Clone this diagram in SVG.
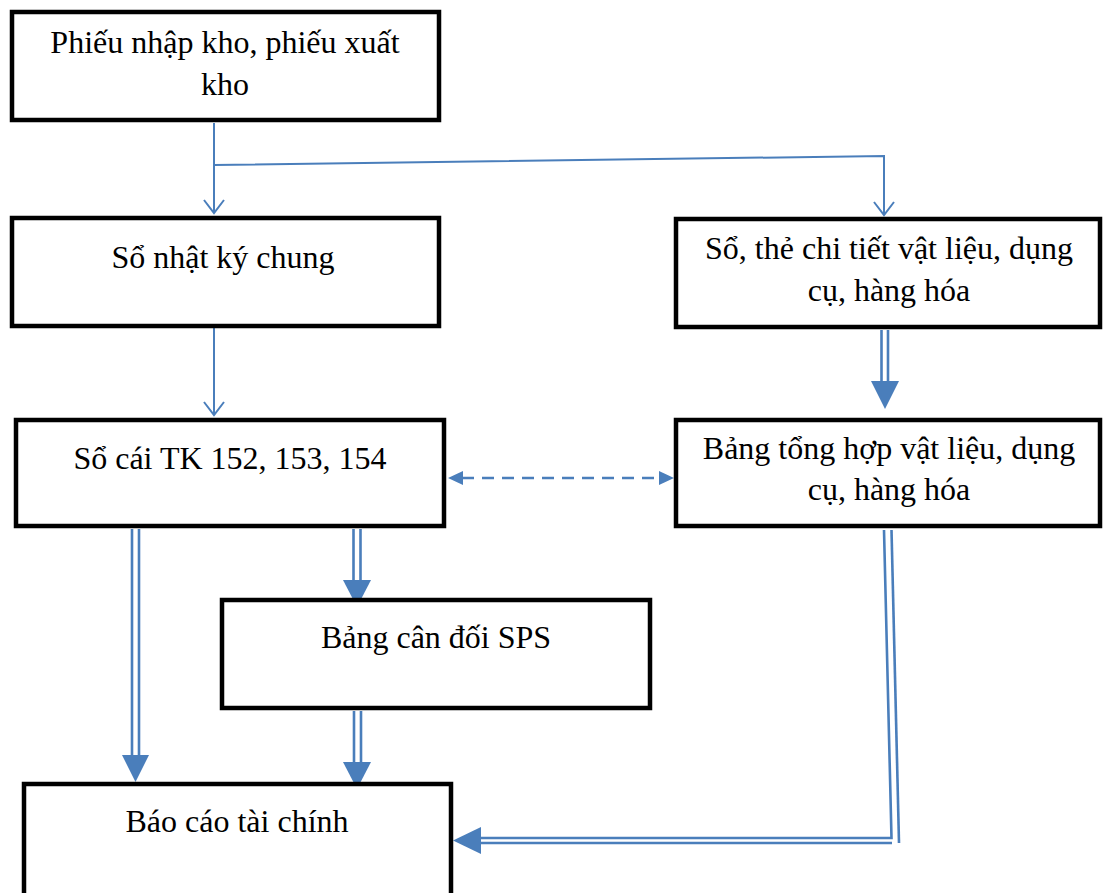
<svg xmlns="http://www.w3.org/2000/svg" width="1103" height="893" viewBox="0 0 1103 893">
  <defs>
    <style>
      .box { fill: #ffffff; stroke: #000000; stroke-width: 4.5; }
      .lbl { font-family: "Liberation Serif", "Times New Roman", serif; font-size: 32px; fill: #000000; text-anchor: middle; }
      .thin { fill: none; stroke: #4a7ebb; stroke-width: 2; }
      .dbl { fill: none; stroke: #4a7ebb; stroke-width: 2.6; }
      .dash { fill: none; stroke: #4a7ebb; stroke-width: 2.5; stroke-dasharray: 12 8; }
      .head { fill: #4a7ebb; stroke: none; }
    </style>
  </defs>

  <rect width="1103" height="893" fill="#ffffff"/>

  <!-- connectors -->
  <g id="connectors">
    <!-- source documents to general journal and detail ledgers -->
    <path class="thin" d="M214,123 V212"/>
    <path d="M204,200 L214,213 L224,200" class="thin"/>
    <path class="thin" d="M214,165 L884,156 V214"/>
    <path d="M874,202 L884,215 L894,202" class="thin"/>

    <!-- general journal to general ledger -->
    <path class="thin" d="M214,328 V414"/>
    <path d="M204,402 L214,415 L224,402" class="thin"/>

    <!-- detail ledgers to summary table -->
    <path class="dbl" d="M881.5,330 V382 M888,330 V382"/>
    <path class="head" d="M871,381 H899 L885,409 Z"/>

    <!-- reconciliation between general ledger and summary table -->
    <path class="dash" d="M462,478 H660"/>
    <path class="head" d="M448,478 L463,471 L463,485 Z"/>
    <path class="head" d="M674,478 L659,471 L659,485 Z"/>

    <!-- general ledger to financial statements -->
    <path class="dbl" d="M132,529 V757 M139,529 V757"/>
    <path class="head" d="M122,755 H149 L135.5,782 Z"/>

    <!-- general ledger to trial balance -->
    <path class="dbl" d="M353.5,529 V582 M360.5,529 V582"/>
    <path class="head" d="M343,580 H371 L357,607 Z"/>

    <!-- trial balance to financial statements -->
    <path class="dbl" d="M354,711 V764 M361,711 V764"/>
    <path class="head" d="M343,762 H371 L357,789 Z"/>

    <!-- summary table to financial statements -->
    <path class="dbl" d="M884,530 L891.5,838 H478"/>
    <path class="dbl" d="M891.5,530 L899,843"/>
    <path class="dbl" d="M892,843 H478"/>
    <path class="head" d="M453,840.5 L481,827 V854 Z"/>
  </g>

  <g id="node-phieu">
    <rect class="box" x="12" y="12" width="427" height="108"/>
    <text class="lbl" x="225" y="53">Phiếu nhập kho, phiếu xuất</text>
    <text class="lbl" x="225" y="95">kho</text>
  </g>

  <g id="node-nhatky">
    <rect class="box" x="12" y="218" width="427" height="108"/>
    <text class="lbl" x="223" y="268">Sổ nhật ký chung</text>
  </g>

  <g id="node-sothe">
    <rect class="box" x="676" y="219" width="424" height="108"/>
    <text class="lbl" x="889" y="259">Sổ, thẻ chi tiết vật liệu, dụng</text>
    <text class="lbl" x="889" y="301">cụ, hàng hóa</text>
  </g>

  <g id="node-socai">
    <rect class="box" x="16" y="420" width="428" height="106"/>
    <text class="lbl" x="230" y="469">Sổ cái TK 152, 153, 154</text>
  </g>

  <g id="node-tonghop">
    <rect class="box" x="676" y="420" width="424" height="106"/>
    <text class="lbl" x="889" y="459">Bảng tổng hợp vật liệu, dụng</text>
    <text class="lbl" x="889" y="500">cụ, hàng hóa</text>
  </g>

  <g id="node-candoi">
    <rect class="box" x="222" y="600" width="428" height="108"/>
    <text class="lbl" x="436" y="648">Bảng cân đối SPS</text>
  </g>

  <g id="node-baocao">
    <rect class="box" x="24" y="784" width="427" height="120"/>
    <text class="lbl" x="237" y="832">Báo cáo tài chính</text>
  </g>
</svg>
